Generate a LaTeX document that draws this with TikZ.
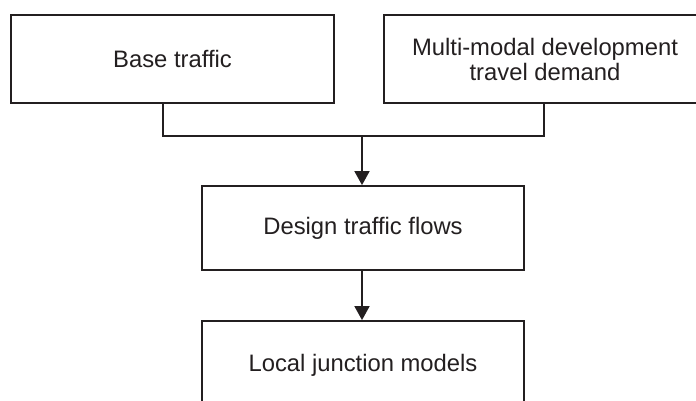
\documentclass[tikz,border=0pt]{standalone}
\usepackage{fontspec}
\setmainfont{Liberation Sans}
\usetikzlibrary{arrows.meta}
\definecolor{ink}{HTML}{231F20}
\begin{document}
\begin{tikzpicture}[x=1pt,y=1pt,
  box/.style={draw=ink, line width=1.8pt, fill=white, rectangle, inner sep=0pt,
    text=ink, align=center, font=\fontsize{23.8}{25}\selectfont},
  link/.style={draw=ink, line width=1.8pt},
  flow/.style={link, -{Triangle[width=15pt,length=14pt]}}]
  \useasboundingbox (0,0) rectangle (696,400);
  \clip (0,0) rectangle (696,400);
  % input boxes
  \node[box, minimum width=323pt, minimum height=88pt] (base) at (172.5,341) {Base traffic};
  \node[box, minimum width=322pt, minimum height=88pt] (multi) at (545,341)
    {Multi-modal development\\travel demand};
  % processing chain
  \node[box, minimum width=322pt, minimum height=84pt] (design) at (363,172) {Design traffic flows};
  \node[box, minimum width=322pt, minimum height=88pt] (local) at (363,35) {Local junction models};
  % junction of the two inputs
  \coordinate (jl) at (163,264);
  \coordinate (jr) at (544,264);
  \coordinate (jm) at (362,264);
  \draw[link] (base.south -| jl) -- (jl) -- (jr) -- (multi.south -| jr);
  \draw[flow] (jm) -- (design.north -| jm);
  \draw[flow] (design.south -| jm) -- (local.north -| jm);
\end{tikzpicture}
\end{document}
